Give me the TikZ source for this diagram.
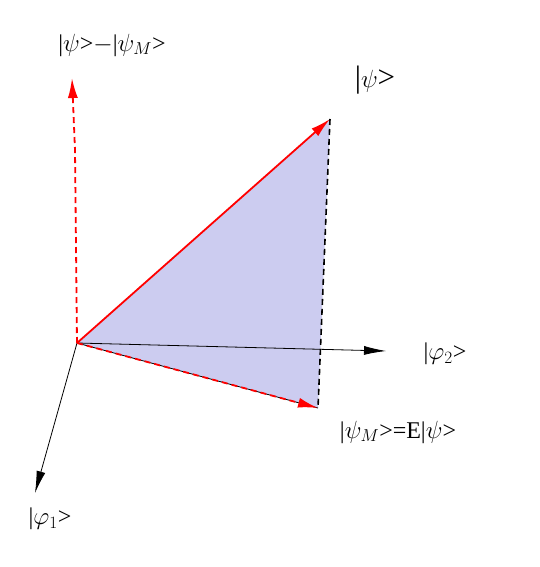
\documentclass[tikz,border=0pt]{standalone}
\usepackage{fontspec}
\setmainfont{Liberation Serif}
\usetikzlibrary{arrows.meta}
\definecolor{planefill}{RGB}{204,204,240}

\begin{document}
\begin{tikzpicture}[x=1pt,y=-1pt]

\tikzset{axis/.style = {-{Latex[length=22pt,width=9pt]}, black, line width=0.8pt}}
\tikzset{vec/.style = {-{Latex[length=20pt,width=10pt]}, red, line width=1.8pt}}
\tikzset{dashline/.style = {dash pattern=on 6pt off 4pt}}
\tikzset{lbl/.style = {inner sep=0pt, font=\fontsize{24}{24}\selectfont}}
\useasboundingbox (0,0) rectangle (540,567);
%points
\coordinate (O) at (77,343);
\coordinate (psi) at (330,119);
\coordinate (psiM) at (318,408);
\coordinate (diff) at (72,78);
\coordinate (e1) at (35,493);
\coordinate (e2) at (386,351);
%plane
\fill[planefill] (O) -- (psi) -- (psiM) -- cycle;
%axes
\draw[axis] (O) -- (e1);
\draw[axis] (O) -- (e2);
\draw[black, line width=0.8pt] (O) -- (psiM);
%vectors
\draw[vec] (O) -- (psi);
\draw[vec, dashline] (O) -- (75,150) -- (diff);
\draw[vec, dashline] (O) -- (psiM);
\draw[black, line width=1.6pt, dashline] (psi) -- (psiM);
%labels
\node[lbl] (ldiff) at (112,45) {|$\psi$>$-$|$\psi_M$>};
\node[lbl, font=\fontsize{31}{31}\selectfont] (lpsi) at (375,80) {|$\psi$>};
\node[lbl] (le2) at (445,354) {|$\varphi_2$>};
\node[lbl] (lpsiM) at (398,432) {|$\psi_M$>=E|$\psi$>};
\node[lbl] (le1) at (50,519) {|$\varphi_1$>};

\end{tikzpicture}
\end{document}
